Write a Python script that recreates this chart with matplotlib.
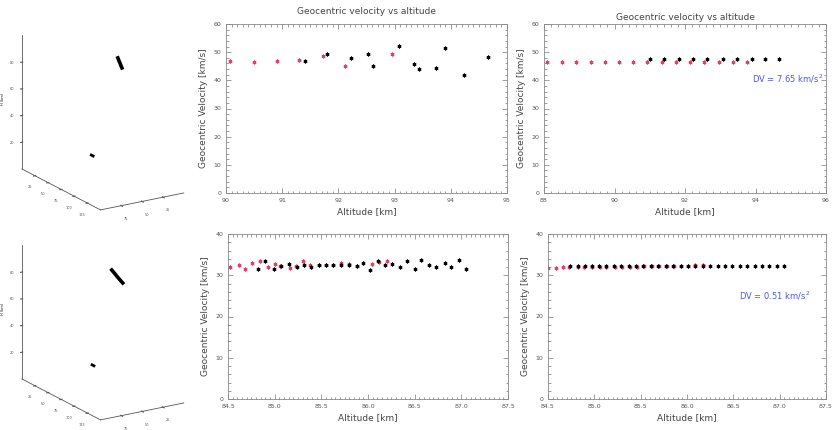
import numpy as np
import matplotlib
matplotlib.use("Agg")
import matplotlib.pyplot as plt
from matplotlib.ticker import MultipleLocator, AutoMinorLocator

# ---------------- data ----------------
# top: event 1
alt1_red = [90.08, 90.50, 90.91, 91.30, 91.72, 92.11, 92.96]
vel1_red = [46.7, 46.6, 46.7, 47.1, 48.8, 45.2, 49.4]
alt1_blk = [91.40, 91.80, 92.23, 92.53, 92.62, 93.07, 93.34, 93.44, 93.73, 93.89, 94.23, 94.66]
vel1_blk = [46.9, 49.4, 47.8, 49.2, 45.1, 52.2, 45.8, 44.2, 44.5, 51.4, 41.8, 48.4]

alt1f_red = [88.09, 88.51, 88.91, 89.33, 89.73, 90.13, 90.52, 90.92, 91.35, 91.74,
             92.14, 92.54, 92.96, 93.36, 93.75]
vel1f_red = [46.4, 46.4, 46.4, 46.4, 46.4, 46.4, 46.4, 46.4, 46.4, 46.4,
             46.4, 46.4, 46.4, 46.4, 46.4]
alt1f_blk = [91.01, 91.40, 91.83, 92.23, 92.62, 93.08, 93.47, 93.90, 94.27, 94.67]
vel1f_blk = [47.6, 47.6, 47.6, 47.6, 47.6, 47.6, 47.6, 47.6, 47.6, 47.6]
dv1_text = "DV = 7.65 km/s$^{2}$"

# bottom: event 2
alt2_red = [84.52, 84.62, 84.68, 84.76, 84.84, 84.93, 85.00, 85.06, 85.16, 85.23, 85.30,
            85.38, 85.48, 85.55, 85.63, 85.71, 85.80, 85.88, 86.04, 86.12, 86.20]
vel2_red = [32.0, 32.5, 31.4, 32.9, 33.4, 32.0, 32.7, 32.3, 31.8, 32.3, 33.4,
            32.5, 32.6, 32.6, 32.6, 33.0, 32.8, 32.3, 32.8, 33.1, 33.4]
alt2_blk = [84.82, 84.90, 84.99, 85.07, 85.15, 85.24, 85.31, 85.39, 85.48, 85.55, 85.63,
            85.71, 85.80, 85.88, 85.95, 86.02, 86.11, 86.18, 86.26, 86.34, 86.42, 86.50,
            86.57, 86.65, 86.73, 86.82, 86.89, 86.98, 87.05]
vel2_blk = [31.4, 33.4, 31.6, 32.3, 32.8, 32.1, 32.4, 32.0, 32.4, 32.4, 32.4,
            32.5, 32.4, 32.3, 33.0, 31.2, 33.4, 32.4, 32.8, 32.0, 33.4, 31.6,
            33.6, 32.4, 32.0, 33.0, 32.0, 33.6, 31.6]

alt2f_red = [84.50, 84.59, 84.66, 84.73, 84.82, 84.89, 84.98, 85.06, 85.13, 85.22, 85.30,
             85.38, 85.46, 85.54, 85.62, 85.70, 85.78, 85.86, 85.94, 86.01, 86.09, 86.17]
vel2f_red = [31.8, 31.8, 31.9, 31.9, 31.9, 32.0, 32.0, 32.0, 32.0, 32.1, 32.1,
             32.1, 32.1, 32.2, 32.2, 32.2, 32.2, 32.3, 32.3, 32.3, 32.4, 32.4]
alt2f_blk = [84.74, 84.82, 84.90, 84.98, 85.05, 85.13, 85.21, 85.29, 85.37, 85.45, 85.53,
             85.61, 85.69, 85.77, 85.85, 85.93, 86.01, 86.09, 86.17, 86.25, 86.33, 86.41,
             86.49, 86.57, 86.65, 86.73, 86.81, 86.89, 86.97, 87.05]
vel2f_blk = [32.2] * 30
dv2_text = "DV = 0.51 km/s$^{2}$"

# 3D trajectories (x, y, h in km)
traj1_x = [45, 45, 45, 45, 45]
traj1_y = [95.7, 97.6, 99.6, 101.5, 103.5]
traj1_h = [95.7, 94.2, 92.8, 91.3, 89.8]
stat1_x = [17, 17]
stat1_y = [0.5, 4.0]
stat1_h = [0, 0]

traj2_x = [50, 50, 50, 50, 50]
traj2_y = [92, 97, 102, 107, 113]
traj2_h = [94.0, 92.7, 91.3, 90.0, 88.6]
stat2_x = [16, 16]
stat2_y = [0.5, 4.0]
stat2_h = [0, 0]

RED = "#ec3a64"
BLUE = "#4a5ae6"
TXT = "#444444"

W, H = 838, 430
fig = plt.figure(figsize=(W / 100, H / 100), dpi=100)


def rect(l, t, r, b):
    return [l / W, 1 - b / H, (r - l) / W, (b - t) / H]


def style2d(ax, xlim, xmajor, ylim, ymajor):
    ax.set_xlim(*xlim)
    ax.set_ylim(*ylim)
    ax.xaxis.set_major_locator(MultipleLocator(xmajor))
    ax.yaxis.set_major_locator(MultipleLocator(ymajor))
    ax.xaxis.set_minor_locator(AutoMinorLocator(10))
    ax.yaxis.set_minor_locator(AutoMinorLocator(5))
    ax.tick_params(which="both", direction="in", top=True, right=True,
                   labelsize=4.5, colors="#777777", labelcolor="#555555", width=0.5)
    ax.tick_params(which="major", length=3.5)
    ax.tick_params(which="minor", length=1.8)
    for s in ax.spines.values():
        s.set_linewidth(0.6)
        s.set_color("#888888")
    ax.set_xlabel("Altitude [km]", fontsize=6.5, color=TXT, labelpad=3)
    ax.set_ylabel("Geocentric Velocity [km/s]", fontsize=6.5, color=TXT, labelpad=4)


def pts(ax, x, y, c):
    ax.plot(x, y, linestyle="none", marker=(6, 2, 0), markersize=2.7,
            markeredgewidth=0.8, color=c)


# top middle
ax = fig.add_axes(rect(226, 24, 507, 193))
pts(ax, alt1_red, vel1_red, RED)
pts(ax, alt1_blk, vel1_blk, "black")
style2d(ax, (90, 95), 1, (0, 60), 10)
ax.set_title("Geocentric velocity vs altitude", fontsize=6.5, color=TXT, pad=7)

# top right
ax = fig.add_axes(rect(544, 24, 826, 193))
pts(ax, alt1f_red, vel1f_red, RED)
pts(ax, alt1f_blk, vel1f_blk, "black")
style2d(ax, (88, 96), 2, (0, 60), 10)
ax.set_title("Geocentric velocity vs altitude", fontsize=6.5, color=TXT, pad=3)
ax.text(94.9, 40.5, dv1_text, fontsize=6, color=BLUE, ha="center", va="center")

# bottom middle
ax = fig.add_axes(rect(228, 234, 508, 399))
pts(ax, alt2_red, vel2_red, RED)
pts(ax, alt2_blk, vel2_blk, "black")
style2d(ax, (84.5, 87.5), 0.5, (0, 40), 10)
ax.xaxis.set_major_formatter(matplotlib.ticker.FormatStrFormatter("%.1f"))

# bottom right
ax = fig.add_axes(rect(548, 234, 826, 399))
pts(ax, alt2f_red, vel2f_red, RED)
pts(ax, alt2f_blk, vel2f_blk, "black")
style2d(ax, (84.5, 87.5), 0.5, (0, 40), 10)
ax.xaxis.set_major_formatter(matplotlib.ticker.FormatStrFormatter("%.1f"))
ax.text(86.95, 25.0, dv2_text, fontsize=6, color=BLUE, ha="center", va="center")


def style3d(ax):
    ax.set_proj_type("ortho")
    ax.view_init(elev=19, azim=58)
    ax.set_xlim(0, 100)
    ax.set_ylim(0, 150)
    ax.set_zlim(0, 100)
    ax.set_box_aspect((98, 148, 141), zoom=1.05)
    ax.grid(False)
    for a in (ax.xaxis, ax.yaxis, ax.zaxis):
        a.pane.fill = False
        a.pane.set_edgecolor((1, 1, 1, 0))
        a.line.set_linewidth(0.6)
        a.line.set_color("#555555")
        a.set_tick_params(labelsize=2.5, colors="#555555", pad=-3, width=0.4, length=2)
    ax.set_xticks([25, 50, 75])
    ax.set_yticks([25, 50, 75, 100, 125])
    ax.set_zticks([20, 40, 60, 80])
    ax.set_zlabel("H (km)", fontsize=2.5, labelpad=-12)
    ax.patch.set_alpha(0)


ax = fig.add_axes(rect(-5, 12, 205, 222), projection="3d")
style3d(ax)
ax.plot(traj1_x, traj1_y, traj1_h, color="black", linewidth=2.6)
ax.plot(stat1_x, stat1_y, stat1_h, color="black", linewidth=2)

ax = fig.add_axes(rect(-5, 222, 205, 432), projection="3d")
style3d(ax)
ax.plot(traj2_x, traj2_y, traj2_h, color="black", linewidth=2.6)
ax.plot(stat2_x, stat2_y, stat2_h, color="black", linewidth=2)

fig.savefig("out.png", dpi=100)
